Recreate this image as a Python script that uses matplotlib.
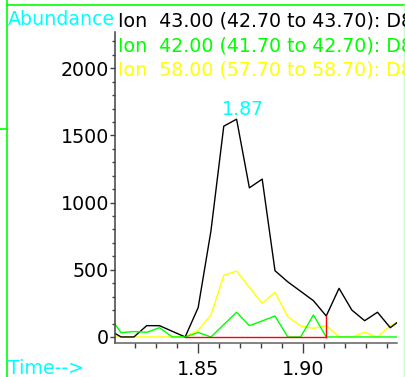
import matplotlib
matplotlib.use("Agg")
import matplotlib.pyplot as plt
from matplotlib.lines import Line2D
from matplotlib.ticker import MultipleLocator, FormatStrFormatter

plt.rcParams['font.family'] = ['DejaVu Sans']

# retention time (min)
time = [1.8073, 1.8134, 1.8195, 1.8256, 1.8317, 1.8378, 1.8439, 1.8501,
        1.8562, 1.8623, 1.8684, 1.8745, 1.8806, 1.8867, 1.8928, 1.8989,
        1.9050, 1.9111, 1.9172, 1.9233, 1.9294, 1.9355, 1.9416, 1.9477]

# extracted ion abundances
ion43 = [55, 0, 0, 84, 84, 42, 0, 218, 790, 1569, 1621, 1110, 1175, 493,
         410, 340, 270, 156, 362, 200, 121, 184, 69, 140]
ion42 = [164, 32, 40, 35, 69, 0, 0, 33, 0, 92, 184, 84, 119, 156,
         0, 0, 164, 0, 0, 0, 0, 0, 0, 0]
ion58 = [0, 0, 0, 0, 0, 0, 0, 50, 164, 458, 491, 370, 250, 332,
         151, 82, 64, 84, 0, 0, 35, 0, 85, 130]

ion_labels = ["Ion  43.00 (42.70 to 43.70): D8",
              "Ion  42.00 (41.70 to 42.70): D8",
              "Ion  58.00 (57.70 to 58.70): D8"]

# integration window of the peak
int_start, int_end = 6, 17

W, H = 406, 377
fig = plt.figure(figsize=(W / 100, H / 100), dpi=100)
ax = fig.add_axes([115 / W, 1 - 343 / H, 282 / W, 311 / H])

ax.plot(time, ion58, color='#ffff00', lw=1)
ax.plot(time, ion43, color='black', lw=1)
ax.plot(time, ion42, color='#00ff00', lw=1)
ax.plot([time[int_start], time[int_end]], [0, 0], color='red', lw=1)
ax.plot([time[int_end], time[int_end]], [0, ion43[int_end]], color='red', lw=1)

pk = ion43.index(max(ion43))
ax.annotate(f"{time[pk]:.2f}", xy=(time[pk], ion43[pk]), xytext=(4.5, 3),
            textcoords='offset points', ha='center', va='baseline',
            color='#00ffff', fontsize=13.7)

ax.set_xlim(1.8105, 1.9448)
ax.set_ylim(-45, 2270)
ax.spines['top'].set_visible(False)
ax.spines['right'].set_visible(False)
ax.spines['left'].set_color('#404040')
ax.spines['bottom'].set_color('#606060')
ax.spines['left'].set_linewidth(1.1)
ax.spines['bottom'].set_linewidth(1.1)

ax.xaxis.set_major_locator(MultipleLocator(0.05))
ax.xaxis.set_minor_locator(MultipleLocator(0.01))
ax.xaxis.set_major_formatter(FormatStrFormatter('%.2f'))
ax.yaxis.set_major_locator(MultipleLocator(500))
ax.yaxis.set_minor_locator(MultipleLocator(100))
ax.tick_params(axis='x', which='major', length=7.2, width=1, color='#404040',
               pad=5, labelsize=13.7)
ax.tick_params(axis='x', which='minor', length=3.6, width=1, color='#404040')
ax.tick_params(axis='y', which='major', length=3.6, width=1, color='#404040',
               pad=0.5, labelsize=13.7)
ax.tick_params(axis='y', which='minor', length=2.2, width=1, color='#404040')

fig.text(8 / W, 1 - 25 / H, "Abundance", color='#00ffff', fontsize=13.7,
         va='baseline')
fig.text(8 / W, 1 - 374 / H, "Time-->", color='#00ffff', fontsize=13.7,
         va='baseline')
for lab, col, yb in zip(ion_labels, ['black', '#00ff00', '#ffff00'], [26.5, 51.5, 76]):
    fig.text(118 / W, 1 - yb / H, lab, color=col, fontsize=13.7, va='baseline')

# window frame
fig.add_artist(Line2D([7 / W, 7 / W], [0, 1], color='#00ff00', lw=1.2))
fig.add_artist(Line2D([7 / W, 404 / W], [1 - 5 / H, 1 - 5 / H], color='#00ff00', lw=1.2))
fig.add_artist(Line2D([0, 7 / W], [1 - 129 / H, 1 - 129 / H], color='#00ff00', lw=1.2))
fig.add_artist(Line2D([404 / W, 404 / W], [0, 1 - 5 / H], color='#c8ffc8', lw=1))

fig.savefig('out.png', dpi=100)
